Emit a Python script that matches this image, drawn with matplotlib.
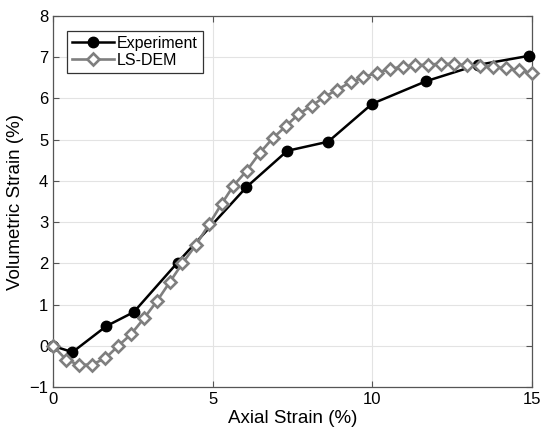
import matplotlib
matplotlib.use('Agg')
import matplotlib.pyplot as plt

plt.rcParams['font.family'] = ['Liberation Sans', 'DejaVu Sans']

# Experiment: axial strain (%), volumetric strain (%)
exp_x = [0, 0.61, 1.67, 2.53, 3.9, 6.06, 7.34, 8.62, 10.0, 11.7, 13.3, 14.9]
exp_y = [0, -0.15, 0.48, 0.82, 2.02, 3.85, 4.73, 4.95, 5.87, 6.42, 6.81, 7.03]

# LS-DEM simulation
dem_x = [0, 0.41, 0.81, 1.22, 1.64, 2.04, 2.44, 2.85, 3.26, 3.66,
         4.05, 4.47, 4.89, 5.28, 5.65, 6.07, 6.48, 6.88, 7.30, 7.68,
         8.10, 8.49, 8.90, 9.32, 9.72, 10.14, 10.55, 10.95, 11.35, 11.76,
         12.15, 12.56, 12.96, 13.37, 13.77, 14.19, 14.6, 15.0]
dem_y = [0, -0.33, -0.46, -0.45, -0.30, 0.0, 0.28, 0.67, 1.09, 1.55,
         2.0, 2.44, 2.95, 3.44, 3.88, 4.25, 4.68, 5.03, 5.33, 5.61,
         5.82, 6.03, 6.21, 6.39, 6.51, 6.62, 6.71, 6.77, 6.80, 6.82,
         6.84, 6.83, 6.80, 6.79, 6.76, 6.73, 6.68, 6.61]

fig = plt.figure(figsize=(5.41, 4.41), dpi=100)
ax = fig.add_axes([0.098, 0.122, 0.885, 0.842])

ax.plot(exp_x, exp_y, '-o', color='black', lw=1.8, ms=7.5,
        label='Experiment', zorder=3, clip_on=False)
ax.plot(dem_x, dem_y, '-D', color='#7f7f7f', lw=1.9, ms=6,
        mfc='white', mec='#7f7f7f', mew=1.9, label='LS-DEM', zorder=4,
        clip_on=False)

ax.set_xlim(0, 15)
ax.set_ylim(-1, 8)
ax.set_xticks([0, 5, 10, 15])
ax.set_yticks(range(-1, 9))
ax.grid(True, color='#e3e3e3', lw=0.8)
ax.set_axisbelow(True)
ax.tick_params(direction='in', top=True, right=True, labelsize=12,
               color='#555555', length=4)
for s in ax.spines.values():
    s.set_color('#555555')
    s.set_linewidth(0.9)

ax.set_xlabel('Axial Strain (%)', fontsize=13.5, labelpad=2)
ax.set_ylabel('Volumetric Strain (%)', fontsize=13.5, labelpad=4)

leg = ax.legend(loc='upper left', bbox_to_anchor=(0.03, 0.96), fontsize=11.5,
                fancybox=False, framealpha=1, edgecolor='#333333',
                handlelength=2.6, borderpad=0.3, labelspacing=0.15,
                handletextpad=0.2, borderaxespad=0)
leg.get_frame().set_linewidth(0.9)

fig.savefig('out.png', dpi=100)
